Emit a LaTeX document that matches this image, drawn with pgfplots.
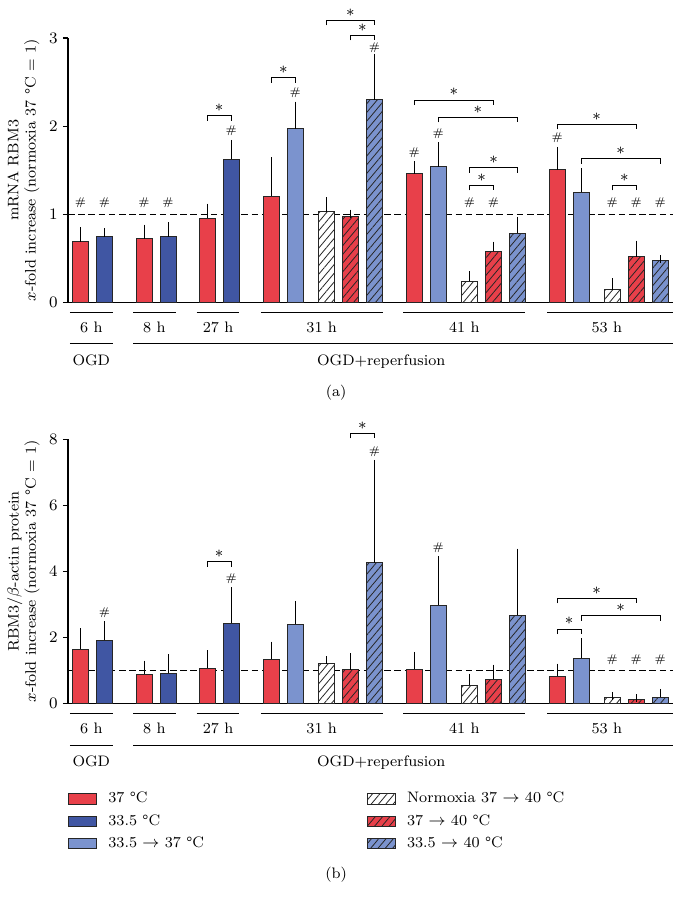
\documentclass[border=0pt]{standalone}
\usepackage{pgfplots}
\pgfplotsset{compat=1.18}
\usetikzlibrary{patterns.meta}

\definecolor{cred}{RGB}{232,64,74}
\definecolor{cdark}{RGB}{64,86,163}
\definecolor{clight}{RGB}{123,147,206}

% one px of the reference = 0.5pt
\newcommand\hs[2]{\node[font=\fontsize{5.6}{6}\selectfont,inner sep=0pt] at (axis cs:#1,#2) {\#};}
% bracket with star: x1, x2, y, tick length
\newcommand\sig[4]{\draw[line width=0.5pt] ([yshift=-#4]axis cs:#1,#3) -- (axis cs:#1,#3)
  -- node[midway,yshift=3.9pt,inner sep=0pt]{$\ast$} (axis cs:#2,#3) -- ([yshift=-#4]axis cs:#2,#3);}

\pgfplotsset{
  panel/.style={
    anchor=south west, x=12pt,
    xmin=0, xmax=25.21, ymin=0,
    axis x line=bottom, axis y line=left, axis line style={-, line width=0.6pt},
    xtick=\empty, tick align=outside, major tick length=2.5pt,
    tick style={line width=0.6pt, black},
    ybar, bar width=8pt, bar shift=0pt, clip=false,
    every axis plot/.append style={draw=black!85, line width=0.5pt,
      error bars/y dir=plus, error bars/y explicit,
      error bars/error bar style={line width=0.55pt, black},
      error bars/error mark options={line width=0.55pt, black, mark size=2pt}},
    ylabel style={align=center, at={(axis description cs:-0.0737,0.5)}, anchor=center},
    legend image code/.code={\draw[#1] (0pt,-2.6pt) rectangle (14pt,2.6pt);},
  },
  hatch/.style={postaction={pattern={Lines[angle=50,distance=2.8pt,line width=0.4pt]}, pattern color=black!85}},
}

\begin{document}
\fontsize{7.6}{8.6}\selectfont
\begin{tikzpicture}
\path[use as bounding box] (0,0) rectangle (336.5pt,-449pt);

% ---------- (a) mRNA ----------
\begin{axis}[panel, at={(34pt,-151.35pt)}, y=44.1pt, ymax=3, ytick={0,1,2,3},
  ylabel={mRNA RBM3\\$x$-fold increase (normoxia 37 \textdegree{}C = 1)}]
\draw[line width=0.5pt, dash pattern=on 3.3pt off 1.8pt] (axis cs:0,1) -- (axis cs:25.21,1);
\addplot[fill=cred] coordinates {(0.52,0.69) +- (0,0.12) (3.17,0.726) +- (0,0.114) (5.8,0.955) +- (0,0.122)
  (8.47,1.206) +- (0,0.397) (14.43,1.46) +- (0,0.098) (20.38,1.505) +- (0,0.215)};
\addplot[fill=cdark] coordinates {(1.52,0.75) +- (0,0.05) (4.17,0.75) +- (0,0.115) (6.8,1.625) +- (0,0.175)};
\addplot[fill=clight] coordinates {(9.47,1.973) +- (0,0.261) (15.43,1.543) +- (0,0.23) (21.38,1.25) +- (0,0.228)};
\addplot[fill=white, hatch] coordinates {(10.77,1.032) +- (0,0.117) (16.73,0.246) +- (0,0.064) (22.68,0.147) +- (0,0.087)};
\addplot[fill=cred, hatch] coordinates {(11.77,0.975) +- (0,0.035) (17.73,0.586) +- (0,0.061) (23.68,0.52) +- (0,0.138)};
\addplot[fill=clight, hatch] coordinates {(12.77,2.30) +- (0,0.48) (18.73,0.79) +- (0,0.14) (24.68,0.48) +- (0,0.01)};
% significance marks
\hs{0.52}{1.13}\hs{1.52}{1.13}\hs{3.17}{1.13}\hs{4.17}{1.13}
\sig{5.8}{6.8}{2.12}{2.5pt}\hs{6.8}{1.947}
\sig{8.47}{9.47}{2.551}{2.5pt}\hs{9.47}{2.378}
\sig{10.77}{12.77}{3.20}{2.5pt}\sig{11.77}{12.77}{3.03}{2.5pt}\hs{12.77}{2.89}
\sig{14.43}{17.73}{2.298}{2.5pt}\sig{15.43}{18.73}{2.102}{2.5pt}
\hs{14.43}{1.697}\hs{15.43}{1.913}
\sig{16.73}{18.73}{1.531}{2.5pt}\sig{16.73}{17.73}{1.331}{2.5pt}
\hs{16.73}{1.13}\hs{17.73}{1.13}
\sig{20.38}{23.68}{2.023}{2.5pt}\hs{20.38}{1.867}
\sig{21.38}{24.68}{1.633}{2.5pt}\sig{22.68}{23.68}{1.331}{2.5pt}
\hs{22.68}{1.13}\hs{23.68}{1.13}\hs{24.68}{1.13}
% time groups
\draw[line width=0.5pt] (axis cs:0.083,-0.109) -- (axis cs:1.86,-0.109);
\draw[line width=0.5pt] (axis cs:2.72,-0.109) -- (axis cs:4.49,-0.109);
\draw[line width=0.5pt] (axis cs:5.36,-0.109) -- (axis cs:7.14,-0.109);
\draw[line width=0.5pt] (axis cs:8.04,-0.109) -- (axis cs:13.11,-0.109);
\draw[line width=0.5pt] (axis cs:13.97,-0.109) -- (axis cs:19.05,-0.109);
\draw[line width=0.5pt] (axis cs:19.97,-0.109) -- (axis cs:25.21,-0.109);
\node[anchor=base] at (axis cs:0.97,-0.336) {6 h};
\node[anchor=base] at (axis cs:3.6,-0.336) {8 h};
\node[anchor=base] at (axis cs:6.25,-0.336) {27 h};
\node[anchor=base] at (axis cs:10.57,-0.336) {31 h};
\node[anchor=base] at (axis cs:16.51,-0.336) {41 h};
\node[anchor=base] at (axis cs:22.45,-0.336) {53 h};
\draw[line width=0.5pt] (axis cs:0.083,-0.468) -- (axis cs:1.86,-0.468);
\draw[line width=0.5pt] (axis cs:2.72,-0.468) -- (axis cs:25.21,-0.468);
\node[anchor=base] at (axis cs:0.97,-0.714) {OGD};
\node[anchor=base] at (axis cs:13.05,-0.714) {OGD+reperfusion};
\node[anchor=base] at (axis cs:11.17,-1.058) {(a)};
\end{axis}

% ---------- (b) protein ----------
\begin{axis}[panel, at={(34pt,-351.85pt)}, y=16.525pt, ymax=8, ytick={0,2,4,6,8},
  ylabel={RBM3/$\beta$-actin protein\\$x$-fold increase (normoxia 37 \textdegree{}C = 1)},
  legend columns=3, transpose legend,
  legend style={at={(axis description cs:0,-0.32)}, anchor=north west, draw=none, fill=none,
    inner sep=0pt, row sep=1pt, nodes={inner sep=1.5pt, text height=5.6pt, text depth=1.6pt},
    /tikz/column 1/.style={column sep=4pt},
    /tikz/column 2/.style={column sep=80pt},
    /tikz/column 3/.style={column sep=4pt}},
  legend cell align=left]
\draw[line width=0.5pt, dash pattern=on 3.3pt off 1.8pt] (axis cs:0,1) -- (axis cs:25.21,1);
\addplot[fill=cred] coordinates {(0.52,1.65) +- (0,0.51) (3.17,0.887) +- (0,0.293) (5.8,1.07) +- (0,0.42)
  (8.47,1.34) +- (0,0.42) (14.43,1.04) +- (0,0.41) (20.38,0.837) +- (0,0.253)};
\addlegendentry{37 \textdegree{}C}
\addplot[fill=cdark] coordinates {(1.52,1.915) +- (0,0.455) (4.17,0.917) +- (0,0.463) (6.8,2.44) +- (0,0.96)};
\addlegendentry{33.5 \textdegree{}C}
\addplot[fill=clight] coordinates {(9.47,2.40) +- (0,0.59) (15.43,2.98) +- (0,1.37) (21.38,1.37) +- (0,0.485)};
\addlegendentry{33.5 $\rightarrow$ 37 \textdegree{}C}
\addplot[fill=white, hatch] coordinates {(10.77,1.23) +- (0,0.09) (16.73,0.554) +- (0,0.232) (22.68,0.18) +- (0,0.06)};
\addlegendentry{Normoxia 37 $\rightarrow$ 40 \textdegree{}C}
\addplot[fill=cred, hatch] coordinates {(11.77,1.03) +- (0,0.38) (17.73,0.746) +- (0,0.314) (23.68,0.12) +- (0,0.05)};
\addlegendentry{37 $\rightarrow$ 40 \textdegree{}C}
\addplot[fill=clight, hatch] coordinates {(12.77,4.27) +- (0,2.99) (18.73,2.67) +- (0,1.90) (24.68,0.20) +- (0,0.13)};
\addlegendentry{33.5 $\rightarrow$ 40 \textdegree{}C}
% significance marks
\hs{1.52}{2.753}
\sig{5.8}{6.8}{4.297}{2.5pt}\hs{6.8}{3.794}
\sig{11.77}{12.77}{8.18}{2.5pt}\hs{12.77}{7.625}
\hs{15.43}{4.73}
\sig{20.38}{23.68}{3.19}{2.5pt}\sig{21.38}{24.68}{2.654}{2.5pt}\sig{20.38}{21.38}{2.26}{2.5pt}
\hs{22.68}{1.343}\hs{23.68}{1.343}\hs{24.68}{1.343}
% time groups
\draw[line width=0.5pt] (axis cs:0.083,-0.29) -- (axis cs:1.86,-0.29);
\draw[line width=0.5pt] (axis cs:2.72,-0.29) -- (axis cs:4.49,-0.29);
\draw[line width=0.5pt] (axis cs:5.36,-0.29) -- (axis cs:7.14,-0.29);
\draw[line width=0.5pt] (axis cs:8.04,-0.29) -- (axis cs:13.11,-0.29);
\draw[line width=0.5pt] (axis cs:13.97,-0.29) -- (axis cs:19.05,-0.29);
\draw[line width=0.5pt] (axis cs:19.97,-0.29) -- (axis cs:25.21,-0.29);
\node[anchor=base] at (axis cs:0.97,-0.896) {6 h};
\node[anchor=base] at (axis cs:3.6,-0.896) {8 h};
\node[anchor=base] at (axis cs:6.25,-0.896) {27 h};
\node[anchor=base] at (axis cs:10.57,-0.896) {31 h};
\node[anchor=base] at (axis cs:16.51,-0.896) {41 h};
\node[anchor=base] at (axis cs:22.45,-0.896) {53 h};
\draw[line width=0.5pt] (axis cs:0.083,-1.25) -- (axis cs:1.86,-1.25);
\draw[line width=0.5pt] (axis cs:2.72,-1.25) -- (axis cs:25.21,-1.25);
\node[anchor=base] at (axis cs:0.97,-1.906) {OGD};
\node[anchor=base] at (axis cs:13.05,-1.906) {OGD+reperfusion};
\node[anchor=base] at (axis cs:11.17,-5.30) {(b)};
\end{axis}
\end{tikzpicture}
\end{document}
